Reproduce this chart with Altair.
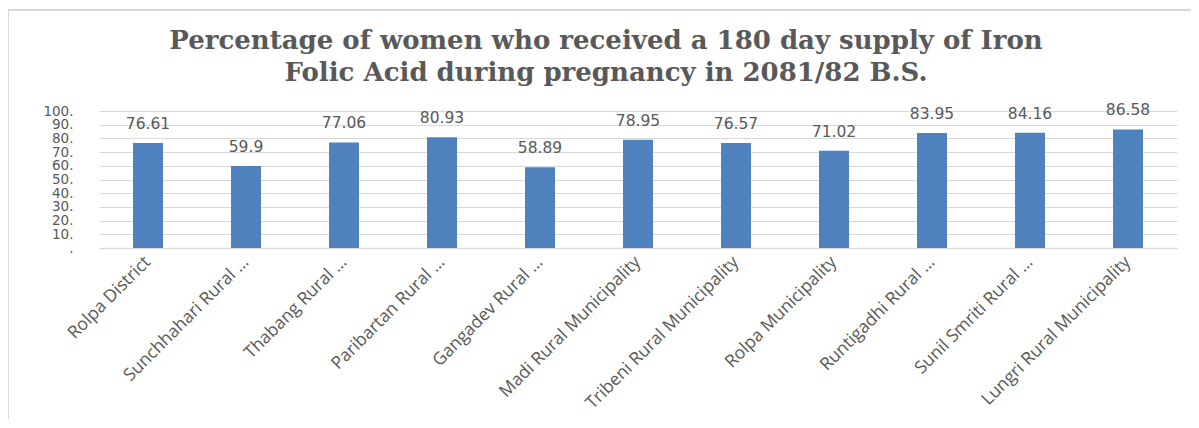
import altair as alt
import pandas as pd

categories = [
    "Rolpa District",
    "Sunchhahari Rural …",
    "Thabang Rural …",
    "Paribartan Rural …",
    "Gangadev Rural …",
    "Madi Rural Municipality",
    "Tribeni Rural Municipality",
    "Rolpa Municipality",
    "Runtigadhi Rural …",
    "Sunil Smriti Rural …",
    "Lungri Rural Municipality",
]
values = [76.61, 59.9, 77.06, 80.93, 58.89, 78.95, 76.57, 71.02, 83.95, 84.16, 86.58]
value_labels = ["76.61", "59.9", "77.06", "80.93", "58.89", "78.95", "76.57", "71.02", "83.95", "84.16", "86.58"]
y_ticks = [0, 10, 20, 30, 40, 50, 60, 70, 80, 90, 100]

df = pd.DataFrame({"cat": categories, "val": values, "lab": value_labels})

title_text = "Percentage of women who received  a 180 day supply of Iron\nFolic Acid during pregnancy  in 2081/82 B.S."

GREY = "#595959"

x_enc = alt.X(
    "cat:N",
    sort=None,
    title=None,
    scale=alt.Scale(paddingInner=0.0, paddingOuter=0.0),
    axis=alt.Axis(
        labelAngle=-45,
        labelAlign="right",
        labelBaseline="middle",
        labelFont="Open Sans",
        labelFontSize=17.5,
        labelColor=GREY,
        labelPadding=11,
        labelLimit=400,
        labelOverlap=False,
        ticks=False,
        domainColor="#D9D9D9",
        domainWidth=1.5,
        grid=False,
    ),
)
y_axis = alt.Axis(
    values=y_ticks,
    labelExpr="datum.value == 0 ? '.' : datum.value + '.'",
    labelFont="DejaVu Sans",
    labelFontSize=13.5,
    labelColor=GREY,
    labelPadding=26,
    labelOverlap=False,
    ticks=False,
    domain=False,
    gridColor="#D9D9D9",
    gridWidth=1.2,
)
y_enc = alt.Y("val:Q", title=None, scale=alt.Scale(domain=[0, 100], nice=False), axis=y_axis)

bars = alt.Chart(df).mark_bar(color="#4F81BD", size=30).encode(x=x_enc, y=y_enc)
texts = alt.Chart(df).mark_text(
    font="DejaVu Sans", fontSize=15.5, color=GREY, baseline="alphabetic", dy=-14
).encode(x=x_enc, y=y_enc, text="lab:N")

one_row = alt.Data(values=[{"k": 1}])
frame_left = alt.Chart(one_row).mark_rule(color="#D9D9D9", strokeWidth=2).encode(
    x=alt.value(-91), y=alt.value(-101), y2=alt.value(330)
)
frame_top = alt.Chart(one_row).mark_rule(color="#D9D9D9", strokeWidth=2).encode(
    x=alt.value(-91), x2=alt.value(1120), y=alt.value(-101)
)
title = alt.Chart(one_row).mark_text(
    font="DejaVu Serif",
    fontSize=26,
    fontWeight="bold",
    color=GREY,
    lineBreak="\n",
    lineHeight=32,
    align="center",
    baseline="alphabetic",
).encode(x=alt.value(507), y=alt.value(-62), text=alt.value(title_text))

chart = (
    alt.layer(bars, texts, frame_left, frame_top, title)
    .properties(
        width=1078,
        height=137,
        autosize=alt.AutoSizeParams(type="none"),
        padding={"left": 91, "top": 103, "right": 14, "bottom": 171},
    )
    .configure_view(stroke=None)
    .configure_axisY(labelOverlap=False)
)

chart.save("out.html", embed_options={"renderer": "svg", "actions": False})
